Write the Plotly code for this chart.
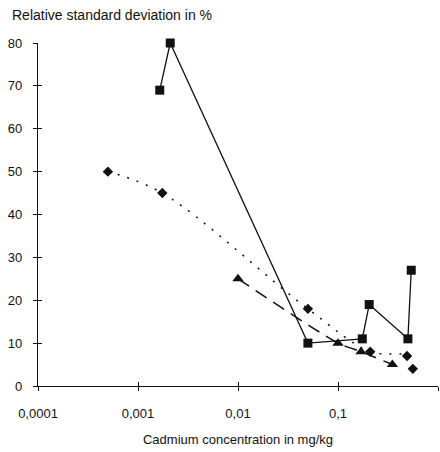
import plotly.graph_objects as go

# Cadmium concentration (mg/kg) vs relative standard deviation (%)
square_conc = [0.00165, 0.0021, 0.05, 0.175, 0.205, 0.5, 0.54]
square_rsd = [69, 80, 10, 11, 19, 11, 27]

diamond_conc = [0.0005, 0.00175, 0.05, 0.21, 0.49, 0.56]
diamond_rsd = [50, 45, 18, 8, 7, 4]

triangle_conc = [0.01, 0.1, 0.17, 0.35]
triangle_rsd = [25, 10, 8, 5]

x_tickvals = [0.0001, 0.001, 0.01, 0.1, 1]
x_ticktext = ["0,0001", "0,001", "0,01", "0,1", "1"]
y_tickvals = [0, 10, 20, 30, 40, 50, 60, 70, 80]

FONT = "Liberation Sans, Arial, sans-serif"
INK = "#111111"

fig = go.Figure()

fig.add_trace(go.Scatter(
    x=diamond_conc, y=diamond_rsd, mode="lines+markers", cliponaxis=False,
    line=dict(color=INK, width=1.5, dash="2px,8px", shape="spline", smoothing=1.0),
    marker=dict(symbol="diamond", size=8, color=INK),
    showlegend=False,
))
fig.add_trace(go.Scatter(
    x=triangle_conc, y=triangle_rsd, mode="lines+markers", cliponaxis=False,
    line=dict(color=INK, width=1.5, dash="13px,8px", shape="spline", smoothing=0.6),
    marker=dict(symbol="triangle-up", size=10, color=INK),
    showlegend=False,
))
fig.add_trace(go.Scatter(
    x=square_conc, y=square_rsd, mode="lines+markers", cliponaxis=False,
    line=dict(color=INK, width=1.3),
    marker=dict(symbol="square", size=9, color=INK),
    showlegend=False,
))
# invisible point so the overlaid inside-tick axes are drawn (ticks cross the axis lines)
fig.add_trace(go.Scatter(x=[0.001], y=[0], xaxis="x2", yaxis="y2", mode="markers",
                         marker=dict(opacity=0), hoverinfo="skip", showlegend=False))

tick_style = dict(showgrid=False, zeroline=False, tickcolor=INK, tickwidth=1.3, ticklen=4)

fig.update_layout(
    width=440, height=452,
    margin=dict(l=38, r=2, t=43, b=66),
    paper_bgcolor="white", plot_bgcolor="white",
    font=dict(family=FONT, size=13, color=INK),
    xaxis=dict(type="log", range=[-4, 0], tickvals=x_tickvals, ticktext=x_ticktext,
               ticks="outside", showline=True, linecolor=INK, linewidth=1.3,
               ticklabelstandoff=11, tickfont=dict(size=13),
               title=dict(text="Cadmium concentration in mg/kg", font=dict(size=13), standoff=15),
               **tick_style),
    yaxis=dict(range=[0, 80], tickvals=y_tickvals, ticks="outside", showline=True,
               linecolor=INK, linewidth=1.3, ticklabelstandoff=8, tickfont=dict(size=13),
               **tick_style),
    xaxis2=dict(type="log", range=[-4, 0], tickvals=x_tickvals, ticks="inside",
                showticklabels=False, overlaying="x", anchor="y2", side="bottom",
                showline=False, **tick_style),
    yaxis2=dict(range=[0, 80], tickvals=y_tickvals, ticks="inside",
                showticklabels=False, overlaying="y", anchor="x2", side="left",
                showline=False, **tick_style),
    annotations=[dict(text="Relative standard deviation in %", xref="paper", yref="paper",
                      x=-0.07, y=1.083, xanchor="left", yanchor="middle", showarrow=False,
                      font=dict(size=14, family=FONT, color=INK))],
)

fig.write_html("out.html")
